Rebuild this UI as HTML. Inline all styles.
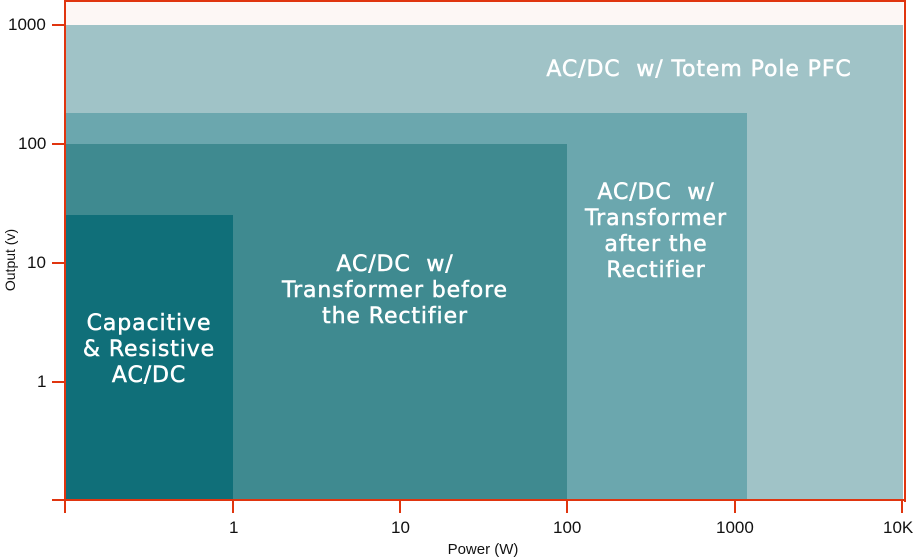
<!DOCTYPE html>
<html><head><style>
body{margin:0;width:918px;height:560px;background:#fff;overflow:hidden;font-family:"Liberation Sans",sans-serif}
.a{position:absolute}
.t{position:absolute;color:#fff;font-family:"DejaVu Sans",sans-serif;font-size:22px;letter-spacing:0.9px;-webkit-text-stroke:0.5px #fff;text-align:center;line-height:26px}
.n{position:absolute;font-size:17px;color:#111}
</style></head><body>
<div class="a" style="left:65px;top:1px;width:838px;height:24px;background:#fdf7f5"></div>
<div class="a" style="left:65px;top:25px;width:838px;height:476px;background:#a0c3c7"></div>
<div class="a" style="left:65px;top:113px;width:682px;height:388px;background:#6ba7ae"></div>
<div class="a" style="left:65px;top:144px;width:502px;height:357px;background:#3f8a90"></div>
<div class="a" style="left:65px;top:215px;width:168px;height:286px;background:#106f79"></div>
<div class="a" style="left:64px;top:0;width:838px;height:500px;border:2px solid #e0350f;border-bottom:none"></div>
<div class="a" style="left:52px;top:499px;width:852px;height:2px;background:#e0350f"></div>
<div class="a" style="left:52px;top:24px;width:13px;height:2px;background:#e0350f"></div>
<div class="a" style="left:52px;top:143px;width:13px;height:2px;background:#e0350f"></div>
<div class="a" style="left:52px;top:262px;width:13px;height:2px;background:#e0350f"></div>
<div class="a" style="left:52px;top:381px;width:13px;height:2px;background:#e0350f"></div>
<div class="a" style="left:64px;top:500px;width:2px;height:13px;background:#e0350f"></div>
<div class="a" style="left:232px;top:500px;width:2px;height:13px;background:#e0350f"></div>
<div class="a" style="left:399px;top:500px;width:2px;height:13px;background:#e0350f"></div>
<div class="a" style="left:566px;top:500px;width:2px;height:13px;background:#e0350f"></div>
<div class="a" style="left:734px;top:500px;width:2px;height:13px;background:#e0350f"></div>
<div class="a" style="left:901px;top:500px;width:2px;height:13px;background:#e0350f"></div>
<div class="n" style="left:8px;top:15px">1000</div>
<div class="n" style="left:18px;top:134px">100</div>
<div class="n" style="left:27px;top:253px">10</div>
<div class="n" style="left:37px;top:372px">1</div>
<div class="n" style="left:229px;top:518px">1</div>
<div class="n" style="left:391px;top:518px">10</div>
<div class="n" style="left:553px;top:518px">100</div>
<div class="n" style="left:716px;top:518px">1000</div>
<div class="n" style="left:883px;top:518px">10K</div>
<div class="a" style="left:433px;top:541px;width:100px;text-align:center;font-size:15px;color:#111">Power (W)</div>
<div class="a" style="left:-30px;top:252px;font-size:14px;color:#111;transform:rotate(-90deg);width:80px;text-align:center">Output (v)</div>
<div class="t" style="left:499px;top:57px;width:400px">AC/DC&nbsp; w/ Totem Pole PFC</div>
<div class="t" style="left:550px;top:180px;width:212px">AC/DC&nbsp; w/<br>Transformer<br>after the<br>Rectifier</div>
<div class="t" style="left:230px;top:252px;width:330px">AC/DC&nbsp; w/<br>Transformer before<br>the Rectifier</div>
<div class="t" style="left:45px;top:311px;width:208px">Capacitive<br>&amp; Resistive<br>AC/DC</div>
</body></html>
